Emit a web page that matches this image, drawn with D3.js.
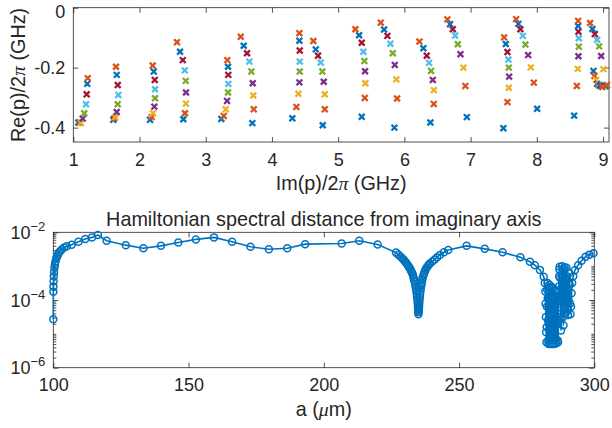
<!DOCTYPE html>
<html>
<head>
<meta charset="utf-8">
<script src="https://cdn.jsdelivr.net/npm/d3@7"></script>
<style>
  body { margin: 0; background: #fff; }
  text { font-family: "Liberation Sans", Arial, Helvetica, sans-serif; fill: #262626; }
  .domain { display: none; }
  .tick line { stroke: #262626; stroke-width: 0.8; }
</style>
</head>
<body>
<div id="chart"></div>
<script>
// pole positions, one array per sweep step: [Im(p)/2pi, Re(p)/2pi] in GHz
const s1 = [[1.076,-0.383],[1.604,-0.374],[2.159,-0.374],[2.662,-0.372],[3.236,-0.371],[3.704,-0.385],[4.308,-0.369],[4.767,-0.392],[5.356,-0.364],[5.849,-0.400],[6.393,-0.383],[6.943,-0.365],[7.495,-0.402],[8.005,-0.337],[8.563,-0.360],[9.040,-0.262],[8.855,-0.211]];
const s2 = [[1.101,-0.383],[1.619,-0.369],[2.184,-0.365],[2.687,-0.352],[3.272,-0.361],[3.725,-0.339],[4.369,-0.331],[4.798,-0.339],[5.402,-0.301],[5.890,-0.303],[6.444,-0.321],[6.921,-0.261],[7.556,-0.315],[7.955,-0.250],[8.604,-0.261],[9.060,-0.258],[8.870,-0.228]];
const s3 = [[1.116,-0.385],[1.634,-0.365],[2.204,-0.352],[2.702,-0.320],[3.302,-0.339],[3.719,-0.293],[4.399,-0.287],[4.798,-0.289],[5.411,-0.252],[5.879,-0.239],[6.444,-0.275],[6.891,-0.200],[7.577,-0.267],[7.909,-0.199],[8.619,-0.204],[9.006,-0.205],[8.896,-0.241]];
const s4 = [[1.142,-0.370],[1.656,-0.348],[2.224,-0.330],[2.702,-0.283],[3.322,-0.311],[3.710,-0.252],[4.414,-0.249],[4.782,-0.247],[5.406,-0.212],[5.855,-0.191],[6.429,-0.241],[6.847,-0.155],[7.582,-0.230],[7.869,-0.158],[8.628,-0.162],[8.971,-0.161],[8.911,-0.254]];
const s5 = [[1.166,-0.352],[1.671,-0.322],[2.234,-0.302],[2.698,-0.244],[3.337,-0.283],[3.689,-0.213],[4.420,-0.213],[4.761,-0.213],[5.396,-0.178],[5.825,-0.152],[6.403,-0.211],[6.807,-0.122],[7.577,-0.200],[7.828,-0.123],[8.634,-0.130],[8.941,-0.129],[8.926,-0.258]];
const s6 = [[1.192,-0.322],[1.680,-0.291],[2.234,-0.272],[2.683,-0.209],[3.341,-0.254],[3.659,-0.180],[4.420,-0.180],[4.737,-0.183],[5.381,-0.147],[5.789,-0.120],[6.373,-0.184],[6.766,-0.093],[7.571,-0.173],[7.789,-0.094],[8.634,-0.102],[8.911,-0.107],[8.941,-0.258]];
const s7 = [[1.202,-0.289],[1.671,-0.258],[2.230,-0.241],[2.653,-0.175],[3.341,-0.224],[3.624,-0.152],[4.420,-0.143],[4.696,-0.160],[5.356,-0.117],[5.743,-0.094],[6.338,-0.160],[6.731,-0.072],[7.556,-0.148],[7.752,-0.072],[8.628,-0.080],[8.876,-0.088],[8.956,-0.260]];
const s8 = [[1.211,-0.254],[1.656,-0.224],[2.215,-0.213],[2.612,-0.147],[3.337,-0.197],[3.574,-0.127],[4.414,-0.110],[4.662,-0.139],[5.316,-0.092],[5.693,-0.073],[6.287,-0.135],[6.690,-0.055],[7.532,-0.121],[7.722,-0.054],[8.624,-0.061],[8.840,-0.071],[8.971,-0.261]];
const s9 = [[1.218,-0.235],[1.645,-0.197],[2.199,-0.193],[2.566,-0.115],[3.326,-0.175],[3.529,-0.097],[4.414,-0.085],[4.625,-0.111],[5.260,-0.072],[5.644,-0.050],[6.227,-0.113],[6.650,-0.039],[7.506,-0.099],[7.687,-0.038],[8.624,-0.044],[8.805,-0.051],[8.990,-0.265]];
const poleSeries = [s1, s2, s3, s4, s5, s6, s7, s8, s9];
const seriesColors = ["#0072BD","#D95319","#EDB120","#7E2F8E","#77AC30","#4DBEEE","#A2142F","#0072BD","#D95319"];
const topXTicks = [1, 2, 3, 4, 5, 6, 7, 8, 9];
const topYTicks = [-0.4, -0.2, 0];

// spectral distance vs a (um)
const aUm = [
  100.00,100.02,100.05,100.10,100.18,100.28,100.42,100.60,100.80,101.05,101.35,101.70,102.10,102.60,103.20,104.00,105.00,106.80,109.30,111.80,
  114.30,116.50,119.70,126.80,133.30,139.80,146.20,152.70,159.40,166.10,172.90,179.70,186.50,193.10,206.60,213.10,219.90,
  226.7,227.6,228.4,229.0,229.6,230.1,230.5,230.9,231.3,231.6,231.9,232.2,232.5,232.75,233.0,233.2,233.4,233.6,233.8,233.95,
  234.1,234.25,234.4,234.5,234.6,234.7,234.8,234.85,234.9,234.95,235.0,
  235.08,235.15,235.22,235.3,235.4,235.5,235.6,235.7,235.82,235.95,236.07,236.2,236.4,236.6,236.85,237.1,237.4,237.7,238.0,238.4,
  238.8,239.2,240.1,241.0,241.9,242.9,244.4,246.0,
  252.8,259.5,266.1,272.7,276.2,278.0,279.9,
  281.3,281.7,281.9,282.0,282.1,282.2,282.3,282.4,282.5,282.6,282.7,282.8,282.9,283.0,283.1,283.2,283.3,283.4,283.5,283.6,
  283.7,283.8,283.9,284.0,284.1,284.2,284.3,284.4,284.5,284.6,284.7,284.8,284.9,285.0,285.1,285.2,285.3,285.4,285.5,285.6,
  285.7,285.8,285.9,286.0,286.1,286.2,286.3,286.4,286.5,286.6,286.7,286.8,286.9,287.0,287.1,
  287.2,287.35,287.5,287.6,287.7,287.8,287.9,288.0,288.1,288.25,288.4,288.5,288.6,288.7,288.8,288.9,289.0,289.15,289.3,289.4,
  289.5,289.6,289.7,289.85,290.0,290.15,290.3,290.45,290.6,290.75,290.9,291.05,291.2,291.4,291.6,291.8,
  292.2,292.8,294.0,295.3,296.8,298.2,299.7];
const dist = [
  2.69e-5,1.74e-4,2.51e-4,3.55e-4,5.01e-4,6.76e-4,8.91e-4,1.12e-3,1.38e-3,1.62e-3,1.91e-3,2.19e-3,2.51e-3,2.82e-3,3.16e-3,3.55e-3,3.89e-3,4.27e-3,5.25e-3,6.31e-3,
  7.08e-3,8.32e-3,5.62e-3,4.17e-3,3.39e-3,3.98e-3,5.01e-3,6.17e-3,7.08e-3,5.25e-3,3.72e-3,3.16e-3,3.39e-3,4.47e-3,4.68e-3,5.62e-3,4.37e-3,
  2.51e-3,2.19e-3,1.91e-3,1.70e-3,1.51e-3,1.35e-3,1.23e-3,1.11e-3,1.0e-3,9.12e-4,8.32e-4,7.50e-4,6.76e-4,6.03e-4,5.25e-4,4.57e-4,3.98e-4,3.47e-4,2.95e-4,2.51e-4,
  2.14e-4,1.78e-4,1.51e-4,1.26e-4,1.05e-4,8.51e-5,7.08e-5,5.89e-5,5.01e-5,4.37e-5,3.80e-5,
  4.47e-5,5.25e-5,6.46e-5,7.94e-5,9.77e-5,1.20e-4,1.48e-4,1.78e-4,2.14e-4,2.51e-4,2.88e-4,3.31e-4,3.98e-4,4.68e-4,5.50e-4,6.31e-4,7.24e-4,8.13e-4,9.02e-4,1.0e-3,
  1.10e-3,1.20e-3,1.38e-3,1.58e-3,1.84e-3,2.14e-3,2.57e-3,3.02e-3,
  3.98e-3,3.24e-3,2.57e-3,1.82e-3,1.35e-3,1.07e-3,7.76e-4,
  4.9e-4,3.16e-4,1.78e-4,7.94e-5,3.16e-5,1.12e-5,5.62e-6,1.58e-5,6.31e-5,2.0e-4,3.16e-4,1.12e-4,2.51e-5,6.31e-6,5.01e-6,2.0e-5,1.0e-4,2.82e-4,2.24e-4,5.01e-5,
  1.12e-5,5.01e-6,1.41e-5,7.08e-5,2.51e-4,1.78e-4,3.98e-5,8.91e-6,5.01e-6,1.78e-5,8.91e-5,2.24e-4,1.41e-4,3.16e-5,7.94e-6,5.01e-6,2.0e-5,1.0e-4,2.0e-4,1.12e-4,
  2.51e-5,7.08e-6,5.25e-6,2.24e-5,1.0e-4,1.78e-4,8.91e-5,2.0e-5,6.31e-6,5.62e-6,2.51e-5,1.12e-4,2.51e-4,5.01e-4,7.94e-4,
  9.55e-4,4.47e-4,1.26e-4,3.16e-5,1.26e-5,3.98e-5,1.58e-4,5.62e-4,1.0e-3,5.01e-4,1.26e-4,3.16e-5,1.78e-5,6.31e-5,2.51e-4,7.94e-4,9.33e-4,3.98e-4,1.0e-4,3.98e-5,
  1.26e-4,4.47e-4,8.91e-4,5.01e-4,1.58e-4,5.62e-5,3.63e-5,1.0e-4,3.16e-4,6.31e-4,2.82e-4,7.94e-5,3.80e-5,6.31e-5,1.58e-4,3.16e-4,
  5.01e-4,7.59e-4,1.07e-3,1.45e-3,1.91e-3,2.19e-3,2.40e-3];
const botXTicks = [100, 150, 200, 250, 300];
const botYTicks = [1e-6, 1e-4, 1e-2];

const W = 612, H = 428;
const svg = d3.select("#chart").append("svg")
    .attr("width", W).attr("height", H);

const ink = "#262626";
const blue = "#0072BD";

// ---------- top panel ----------
const box1 = {left: 73.3, right: 609, top: 7.7, bottom: 142};
const x1 = d3.scaleLinear().domain([1, 9.09]).range([box1.left, box1.right]);
const y1 = d3.scaleLinear().domain([-0.448, 0]).range([box1.bottom, box1.top]);

const g1 = svg.append("g");

g1.append("g")
    .attr("transform", `translate(0, ${box1.bottom})`)
    .call(d3.axisBottom(x1).tickValues(topXTicks).tickSize(-5).tickSizeOuter(0).tickPadding(11).tickFormat(d3.format("d")))
    .call(g => g.selectAll("text").style("font-size", "18px").attr("fill", ink));
g1.append("g")
    .attr("transform", `translate(0, ${box1.top})`)
    .call(d3.axisTop(x1).tickValues(topXTicks).tickSize(-5).tickSizeOuter(0).tickFormat(""));
g1.append("g")
    .attr("transform", `translate(${box1.left}, 0)`)
    .call(d3.axisLeft(y1).tickValues(topYTicks).tickSize(-5).tickSizeOuter(0).tickPadding(8).tickFormat(d => d === 0 ? "0" : d.toFixed(1)))
    .call(g => g.selectAll("text").style("font-size", "18px").attr("fill", ink))
    .call(g => g.selectAll(".tick").filter(d => d === 0).select("text").attr("y", 3.6));
g1.append("g")
    .attr("transform", `translate(${box1.right}, 0)`)
    .call(d3.axisRight(y1).tickValues(topYTicks).tickSize(-5).tickSizeOuter(0).tickFormat(""));

g1.append("rect")
    .attr("x", box1.left).attr("y", box1.top)
    .attr("width", box1.right - box1.left).attr("height", box1.bottom - box1.top)
    .attr("fill", "none").attr("stroke", ink).attr("stroke-width", 0.8);

const ms = 2.9;
const cross = `M${-ms},${-ms}L${ms},${ms}M${-ms},${ms}L${ms},${-ms}`;
poleSeries.forEach((pts, i) => {
  g1.append("g").selectAll("path")
    .data(pts)
    .join("path")
      .attr("d", cross)
      .attr("transform", d => `translate(${x1(d[0])}, ${y1(d[1])})`)
      .attr("fill", "none")
      .attr("stroke", seriesColors[i])
      .attr("stroke-width", 2.3);
});

const xl1 = g1.append("text")
    .attr("x", (box1.left + box1.right) / 2).attr("y", 190)
    .attr("text-anchor", "middle").style("font-size", "19.8px");
xl1.append("tspan").text("Im(p)/2");
xl1.append("tspan").style("font-style", "italic").style("font-family", "'Liberation Serif', serif").text("\u03c0");
xl1.append("tspan").text(" (GHz)");

const yl1 = g1.append("text")
    .attr("transform", `translate(25, ${(box1.top + box1.bottom) / 2}) rotate(-90)`)
    .attr("text-anchor", "middle").style("font-size", "19.8px");
yl1.append("tspan").text("Re(p)/2");
yl1.append("tspan").style("font-style", "italic").style("font-family", "'Liberation Serif', serif").text("\u03c0");
yl1.append("tspan").text(" (GHz)");

// ---------- bottom panel ----------
const box2 = {left: 53.3, right: 594.3, top: 232.3, bottom: 367.7};
const x2 = d3.scaleLinear().domain([100, 300]).range([box2.left, box2.right]);
const y2 = d3.scaleLog().domain([1e-6, 1e-2]).range([box2.bottom, box2.top]);

const g2 = svg.append("g");

g2.append("g")
    .attr("transform", `translate(0, ${box2.bottom})`)
    .call(d3.axisBottom(x2).tickValues(botXTicks).tickSize(-5).tickSizeOuter(0).tickPadding(11).tickFormat(d3.format("d")))
    .call(g => g.selectAll("text").style("font-size", "18px").attr("fill", ink));
g2.append("g")
    .attr("transform", `translate(0, ${box2.top})`)
    .call(d3.axisTop(x2).tickValues(botXTicks).tickSize(-5).tickSizeOuter(0).tickFormat(""));

// minor ticks of the log axis
const minor = [];
for (let e = -6; e < -2; e++) {
  for (let k = 1; k <= 9; k++) {
    if (!(k === 1 && e % 2 === 0)) minor.push(k * Math.pow(10, e));
  }
}
g2.append("g")
    .attr("transform", `translate(${box2.left}, 0)`)
    .call(d3.axisLeft(y2).tickValues(minor).tickSize(-3).tickSizeOuter(0).tickFormat(""));
g2.append("g")
    .attr("transform", `translate(${box2.right}, 0)`)
    .call(d3.axisRight(y2).tickValues(minor).tickSize(-3).tickSizeOuter(0).tickFormat(""));

g2.append("g")
    .attr("transform", `translate(${box2.left}, 0)`)
    .call(d3.axisLeft(y2).tickValues(botYTicks).tickSize(-5).tickSizeOuter(0).tickFormat(""))
    .call(g => g.selectAll(".tick").each(function(d) {
      const t = d3.select(this).append("text")
          .attr("x", -8).attr("y", 6).attr("text-anchor", "end")
          .style("font-size", "18px").attr("fill", ink);
      t.append("tspan").text("10");
      t.append("tspan").attr("dy", -8).style("font-size", "13px")
        .text("\u2212" + Math.round(-Math.log10(d)));
    }));
g2.append("g")
    .attr("transform", `translate(${box2.right}, 0)`)
    .call(d3.axisRight(y2).tickValues(botYTicks).tickSize(-5).tickSizeOuter(0).tickFormat(""));

g2.append("rect")
    .attr("x", box2.left).attr("y", box2.top)
    .attr("width", box2.right - box2.left).attr("height", box2.bottom - box2.top)
    .attr("fill", "none").attr("stroke", ink).attr("stroke-width", 0.8);

const distData = aUm.map((a, i) => [a, dist[i]]);
g2.append("path")
    .datum(distData)
    .attr("fill", "none")
    .attr("stroke", blue)
    .attr("stroke-width", 1.6)
    .attr("d", d3.line().x(d => x2(d[0])).y(d => y2(d[1])));
g2.append("g").selectAll("circle")
    .data(distData)
    .join("circle")
      .attr("cx", d => x2(d[0]))
      .attr("cy", d => y2(d[1]))
      .attr("r", 3.5)
      .attr("fill", "none")
      .attr("stroke", blue)
      .attr("stroke-width", 1.5);

g2.append("text")
    .attr("x", (box2.left + box2.right) / 2).attr("y", 226)
    .attr("text-anchor", "middle").style("font-size", "19.8px")
    .text("Hamiltonian spectral distance from imaginary axis");

const xl2 = g2.append("text")
    .attr("x", (box2.left + box2.right) / 2).attr("y", 416)
    .attr("text-anchor", "middle").style("font-size", "19.8px");
xl2.append("tspan").text("a (");
xl2.append("tspan").style("font-style", "italic").style("font-family", "'Liberation Serif', serif").text("\u03bc");
xl2.append("tspan").text("m)");
</script>
</body>
</html>
